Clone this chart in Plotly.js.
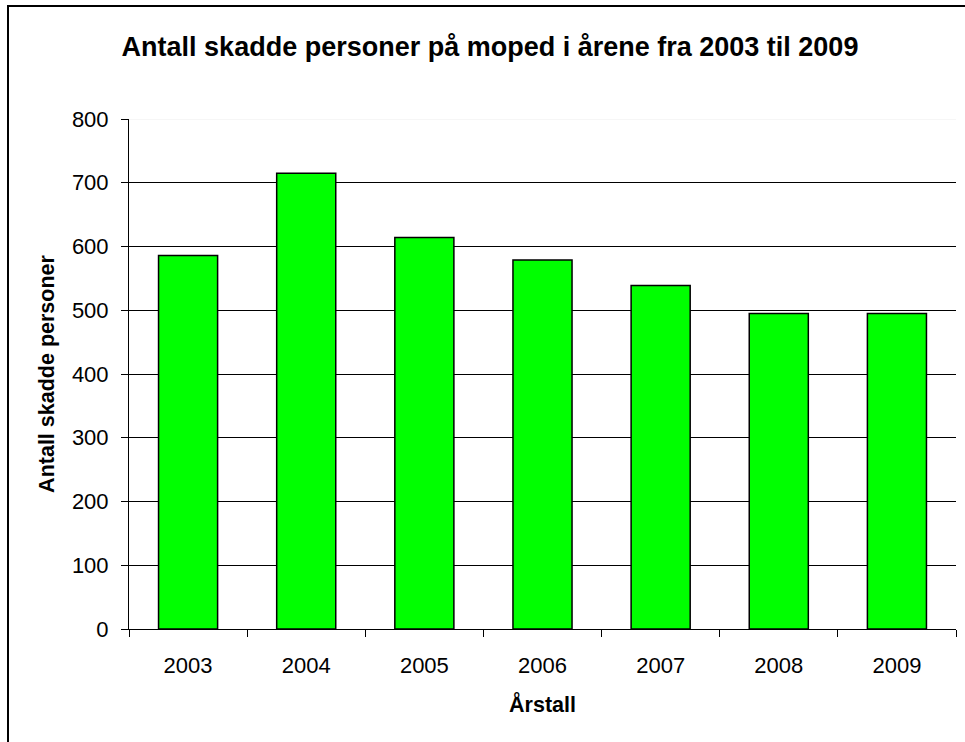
<!DOCTYPE html>
<html>
<head>
<meta charset="utf-8">
<script src="https://cdn.plot.ly/plotly-3.0.1.min.js"></script>
<style>
html,body{margin:0;padding:0;background:#fff;}
#chart{width:965px;height:742px;}
</style>
</head>
<body>
<div id="chart"></div>
<script>
const years = ["2003", "2004", "2005", "2006", "2007", "2008", "2009"];
const injured = [586, 715, 614, 579, 539, 495, 495];
const yTicks = [0, 100, 200, 300, 400, 500, 600, 700, 800];

const chartTitle = "Antall skadde personer på moped i årene fra 2003 til 2009";
const xTitle = "Årstall";
const yTitle = "Antall skadde personer";

const L = 129, R = 9, T = 119, B = 112.5;
const W = 965, H = 742;
const pw = W - L - R, ph = H - T - B;

const trace = {
  type: "bar",
  x: years,
  y: injured,
  marker: {color: "#00FF00", line: {color: "#000000", width: 1.5}},
  hoverinfo: "x+y"
};

const layout = {
  width: W, height: H,
  margin: {l: L, r: R, t: T, b: B, pad: 0},
  paper_bgcolor: "#ffffff",
  plot_bgcolor: "#ffffff",
  font: {family: "Liberation Sans, Arial, sans-serif", color: "#000000", size: 22},
  bargap: 0.5,
  showlegend: false,
  title: {
    text: "<b>" + chartTitle + "</b>",
    font: {size: 27, family: "Liberation Sans, Arial, sans-serif", color: "#000"},
    x: 490 / W, xanchor: "center", xref: "container",
    y: 1 - 47 / H, yanchor: "middle", yref: "container"
  },
  xaxis: {
    type: "category",
    showline: true, linecolor: "#000", linewidth: 1,
    ticks: "outside", ticklen: 7, tickcolor: "#000", tickwidth: 1,
    tickson: "boundaries",
    showgrid: false, zeroline: false,
    tickfont: {size: 22},
    ticklabelstandoff: 17,
    title: {text: "<b>" + xTitle + "</b>", font: {size: 21.5}, standoff: 19}
  },
  yaxis: {
    range: [0, 800],
    tickvals: yTicks,
    ticktext: yTicks.map(String),
    showline: true, linecolor: "#000", linewidth: 1,
    ticks: "outside", ticklen: 7, tickcolor: "#000", tickwidth: 1,
    showgrid: true, gridcolor: "#000", gridwidth: 1,
    zeroline: false,
    tickfont: {size: 22},
    ticklabelstandoff: 8,
    title: {text: "<b>" + yTitle + "</b>", font: {size: 21.5}, standoff: 11}
  },
  shapes: [
    {type: "line", xref: "paper", yref: "y", x0: 0, x1: 1, y0: 800, y1: 800,
     line: {color: "#eeeeee", width: 1.2}, layer: "above"},
    {type: "rect", xref: "paper", yref: "paper",
     x0: (8 - L) / pw, x1: (W + 20 - L) / pw,
     y0: (ph + T - (H + 20)) / ph, y1: (ph + T - 6) / ph,
     line: {color: "#000", width: 2}, fillcolor: "rgba(0,0,0,0)", layer: "below"}
  ]
};

Plotly.newPlot("chart", [trace], layout, {displayModeBar: false, staticPlot: true});
</script>
</body>
</html>
